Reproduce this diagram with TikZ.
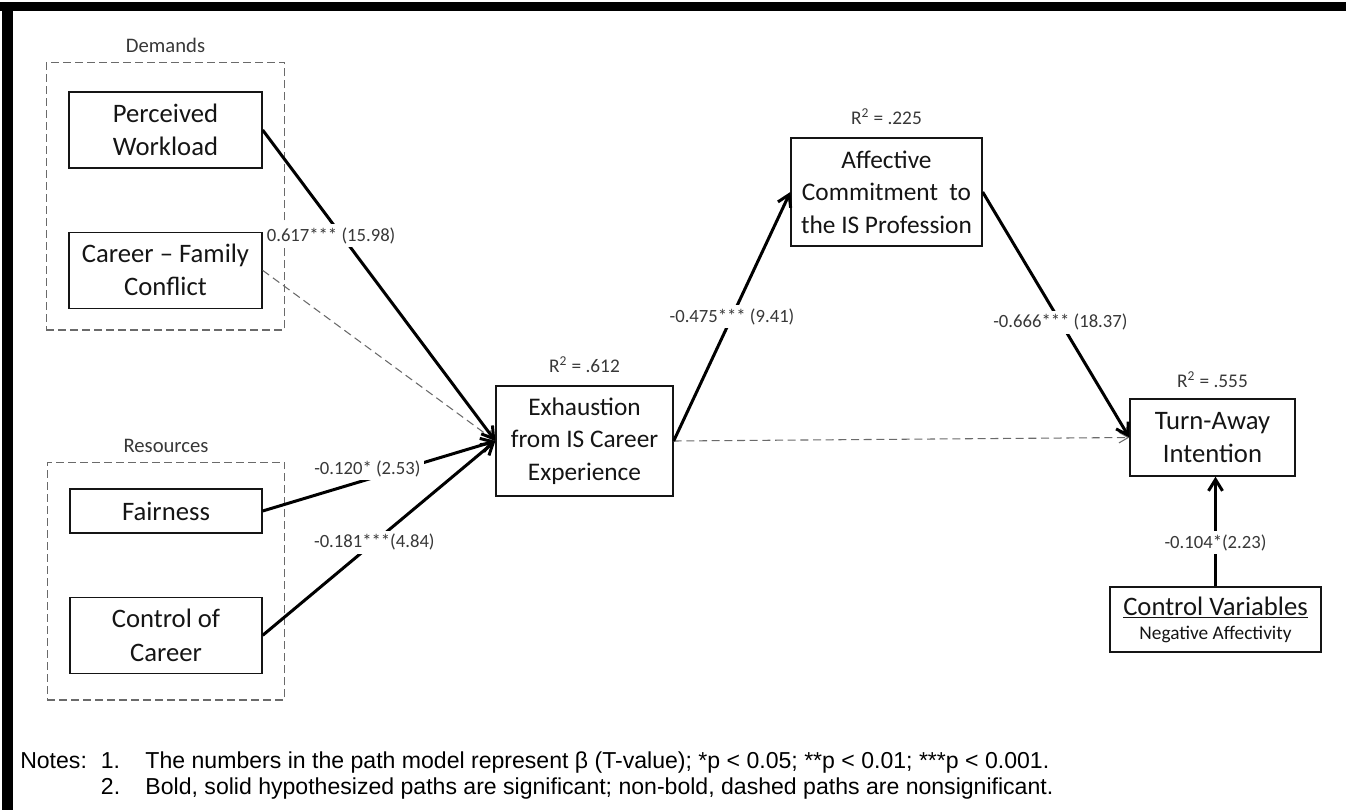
\documentclass[tikz,border=0pt]{standalone}
\usepackage{fontspec}
\setmainfont{Carlito}
\newfontfamily\notesfont{Liberation Sans}
\usepackage{tikz}
\usetikzlibrary{arrows.meta, positioning, fit, backgrounds}
\definecolor{ink}{HTML}{151515}
\definecolor{lblgray}{HTML}{383838}
\definecolor{dashgray}{HTML}{6A6A6A}

\begin{document}
\begin{tikzpicture}[
  x=0.75pt, y=-0.75pt,
  node distance=47.25pt,
  box/.style={draw=ink, line width=1pt, align=center, inner sep=0pt, text=ink, font=\fontsize{20}{24.75}\selectfont},
  midbox/.style={box, font=\fontsize{19}{24.5}\selectfont},
  grp/.style={draw=dashgray, line width=0.8pt, dash pattern=on 6pt off 3pt},
  grplabel/.style={inner sep=0pt, text=lblgray, font=\fontsize{15.5}{18}\selectfont},
  rsq/.style={inner sep=0pt, text=lblgray, font=\fontsize{14.5}{17}\selectfont},
  coef/.style={fill=white, inner sep=2.5pt, text=lblgray, font=\fontsize{14}{17}\selectfont},
  sig/.style={-{Straight Barb[length=8.5pt, width=10.5pt]}, line width=2.25pt},
  nonsig/.style={-{Straight Barb[length=7pt, width=8pt]}, draw=dashgray, line width=0.8pt, dash pattern=on 6pt off 3.5pt}
]
\useasboundingbox (0,0) rectangle (1346,810);
\fill (0,1.5) rectangle (1346,10.5);
\fill (2,1.5) rectangle (12.5,810);

% demands and resources
\node[box, minimum width=144.75pt, minimum height=57pt] (pw) at (165.5,130) {Perceived\\Workload};
\node[box, minimum width=144.75pt, minimum height=57pt, below=of pw] (cfc) {Career -- Family\\Conflict};
\node[box, minimum width=144pt, minimum height=33pt] (fair) at (166,511) {Fairness};
\node[box, minimum width=144pt, minimum height=57pt, below=of fair] (coc) {Control of\\Career};

% mediators and outcome
\node[midbox, minimum width=132.75pt, minimum height=82.5pt] (exh) at (584.5,441) {Exhaustion\\from IS Career\\Experience};
\node[midbox, minimum width=143.25pt, minimum height=81pt] (aff) at (886.5,192) {Affective\\Commitment\ \ to\\the IS Profession};
\node[box, minimum width=123.75pt, minimum height=57.75pt] (ta) at (1212.5,437.5) {Turn-Away\\Intention};
\node[box, minimum width=158.25pt, minimum height=48.75pt, font=\fontsize{20}{18}\selectfont] (cv) at (1215.5,619.5) {\underline{Control Variables}\\{\fontsize{14.5}{16}\selectfont Negative Affectivity}};

\begin{scope}[on background layer]
\node[grp, fit=(pw)(cfc), inner xsep=16.5pt, inner ysep=18.75pt, yshift=3pt] (dem) {};
\node[grp, fit=(fair)(coc), inner xsep=16.5pt, inner ysep=19.5pt] (res) {};
\end{scope}
\node[grplabel, above=7pt of dem] (demlbl) {Demands};
\node[grplabel, above=7pt of res] (reslbl) {Resources};

\node[rsq, above=9pt of exh] (exhr) {R\textsuperscript{2} = .612};
\node[rsq, above=9pt of aff] (affr) {R\textsuperscript{2} = .225};
\node[rsq, above=8pt of ta] (tar) {R\textsuperscript{2} = .555};

% paths
\draw[nonsig] (cfc.east) -- (exh.west);
\draw[nonsig] (exh.east) -- (ta.west);
\draw[sig] (pw.east) -- node[coef, pos=.34, xshift=-8pt]{0.617*** (15.98)} (exh.west);
\draw[sig] (fair.east) -- node[coef, pos=.45, yshift=8pt]{-0.120* (2.53)} (exh.west);
\draw[sig] (coc.east) -- node[coef, pos=.48]{-0.181***(4.84)} (exh.west);
\draw[sig] (exh.east) -- node[coef, pos=.5]{-0.475*** (9.41)} (aff.west);
\draw[sig] (aff.east) -- node[coef, pos=.53]{-0.666*** (18.37)} (ta.west);
\draw[sig] (cv.north) -- node[coef, pos=.4]{-0.104*(2.23)} (cv.north |- ta.south);

\node[anchor=base west, inner sep=0pt, font=\notesfont\fontsize{17.3}{19.5}\selectfont] (notes) at (20,768)
  {\begin{tabular}[t]{@{}l@{\hspace{10.5pt}}l@{\hspace{19pt}}l@{}}
   Notes: & 1. & The numbers in the path model represent β (T-value); *p < 0.05; **p < 0.01; ***p < 0.001.\\
          & 2. & Bold, solid hypothesized paths are significant; non-bold, dashed paths are nonsignificant.
   \end{tabular}};
\end{tikzpicture}
\end{document}
